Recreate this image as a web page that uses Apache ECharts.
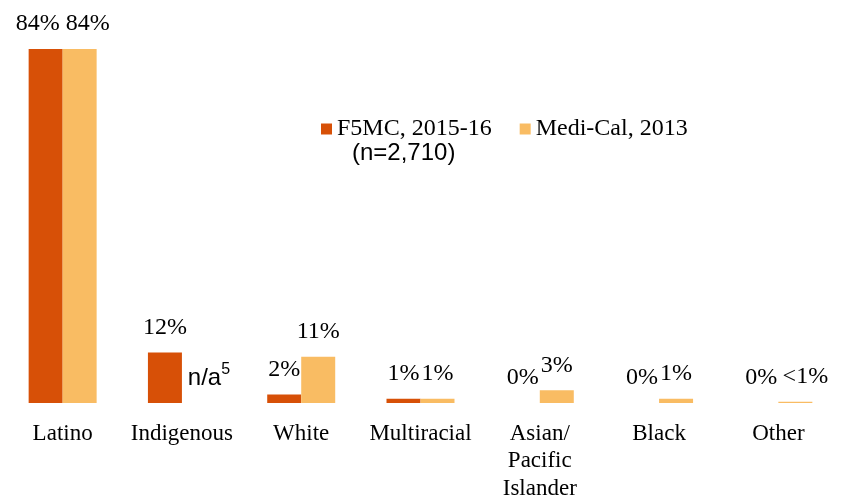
<!DOCTYPE html>
<html>
<head>
<meta charset="utf-8">
<script src="https://cdn.jsdelivr.net/npm/echarts@6/dist/echarts.min.js"></script>
<style>
  html, body { margin: 0; padding: 0; background: #fff; }
  #chart { width: 842px; height: 496px; }
</style>
</head>
<body>
<div id="chart"></div>
<script>
    var categories = ['Latino', 'Indigenous', 'White', 'Multiracial', 'Asian/\nPacific\nIslander', 'Black', 'Other'];
    var f5mcValues = [84, 12, 2, 1, 0, 0, 0];
    var f5mcLabels = ['84%', '12%', '2%', '1%', '0%', '0%', '0%'];
    var mediCalValues = [84, null, 11, 1, 3, 1, 0.3];
    var mediCalLabels = ['84%', 'n/a', '11%', '1%', '3%', '1%', '<1%'];

    var serif = 'Liberation Serif';
    var sans = 'Liberation Sans';

    // per-item label nudges (Latino labels pushed apart, "<1%" to the right)
    var f5mcShift = [-8, 0, 0, 0, 0, 0, 0];
    var mediShift = [8, 0, 0, 0, 0, 0, 10];

    var f5mcData = f5mcValues.map(function (v, i) {
        return {
            value: v,
            label: { formatter: f5mcLabels[i], offset: [f5mcShift[i], 0] }
        };
    });
    var mediData = mediCalValues.map(function (v, i) {
        if (v === null) {
            return {
                value: 0,
                label: {
                    formatter: '{a|' + mediCalLabels[i] + '}{s|5}',
                    offset: [10, 4],
                    rich: {
                        a: { fontFamily: sans, fontSize: 24, color: '#000' },
                        s: { fontFamily: sans, fontSize: 16, color: '#000', padding: [0, 0, 16, 0] }
                    }
                }
            };
        }
        return {
            value: v,
            label: { formatter: mediCalLabels[i], offset: [mediShift[i], 0] }
        };
    });

    var chart = echarts.init(document.getElementById('chart'));
    var option = {
        animation: false,
        legend: {
            left: 316,
            top: 112,
            itemWidth: 11,
            itemHeight: 11,
            itemGap: 28,
            icon: 'rect',
            textStyle: { fontFamily: serif, fontSize: 24, color: '#000' },
            data: ['F5MC, 2015-16', 'Medi-Cal, 2013']
        },
        graphic: [{
            type: 'text',
            left: 352,
            top: 141,
            style: { text: '(n=2,710)', fontFamily: sans, fontSize: 24, fill: '#000' }
        }],
        grid: {
            left: 3,
            right: 4,
            top: 49,
            bottom: 93,
            outerBoundsMode: 'none'
        },
        xAxis: {
            type: 'category',
            data: categories,
            axisLine: { show: false },
            axisTick: { show: false },
            axisLabel: {
                interval: 0,
                margin: 17,
                fontFamily: serif,
                fontSize: 23,
                lineHeight: 27.5,
                color: '#000'
            }
        },
        yAxis: {
            type: 'value',
            min: 0,
            max: 84,
            show: false,
            splitLine: { show: false }
        },
        series: [{
            name: 'F5MC, 2015-16',
            type: 'bar',
            barGap: '0%',
            barCategoryGap: '43%',
            itemStyle: { color: '#D75007' },
            label: {
                show: true,
                position: 'top',
                distance: 13,
                fontFamily: serif,
                fontSize: 24,
                color: '#000'
            },
            data: f5mcData
        }, {
            name: 'Medi-Cal, 2013',
            type: 'bar',
            itemStyle: { color: '#F9BC63' },
            label: {
                show: true,
                position: 'top',
                distance: 13,
                fontFamily: serif,
                fontSize: 24,
                color: '#000'
            },
            data: mediData
        }]
    };
    chart.setOption(option);
</script>
</body>
</html>
